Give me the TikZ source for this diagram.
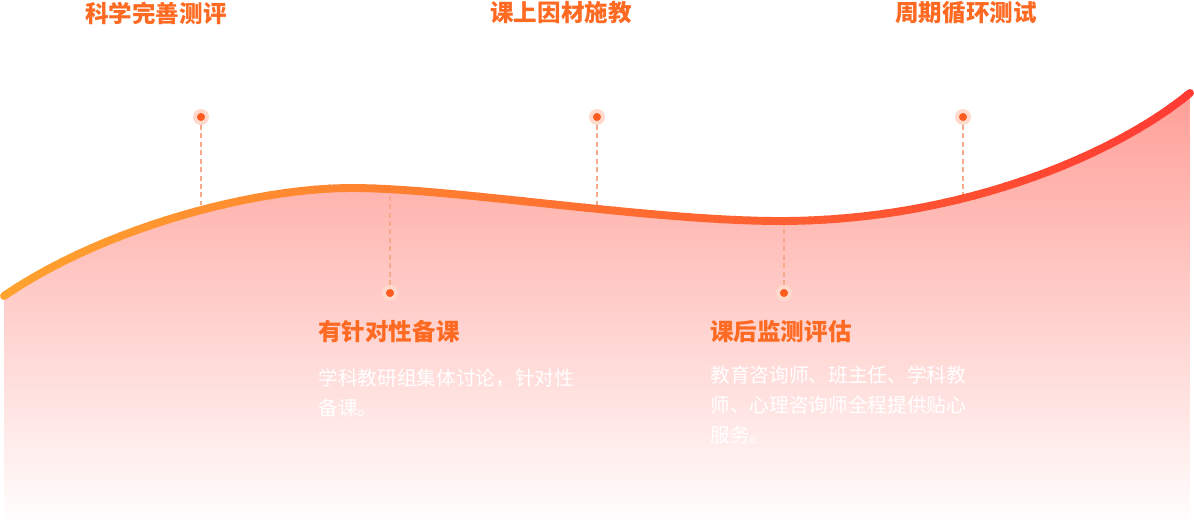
\documentclass[tikz,border=0pt]{standalone}
\usepackage{fontspec}
\newfontfamily\cjk{Noto Sans CJK SC}
\usetikzlibrary{positioning}

\definecolor{lineL}{HTML}{FFA22F}
\definecolor{lineR}{HTML}{FF3B33}
\definecolor{fillTop}{HTML}{FF9F98}
\definecolor{fillMid}{HTML}{FFD5C6}
\definecolor{titleC}{HTML}{FF6A22}
\definecolor{dotC}{HTML}{FF5B1F}
\definecolor{haloC}{HTML}{FFD9CB}
\definecolor{guideC}{HTML}{F8A98B}

\newcommand{\wavepath}{(4,296) .. controls (100,230) and (250,188) .. (352,188)
  .. controls (452,188) and (650,221) .. (780,221)
  .. controls (960,221) and (1115,155) .. (1190,93)}

\tikzset{
  title/.style={font=\cjk\bfseries\fontsize{13.4}{16}\selectfont, text=titleC, inner sep=0pt},
  body/.style={font=\cjk\fontsize{11.2}{17}\selectfont, text=white, align=left, inner sep=0pt, anchor=west},
  dotmark/.style={circle, fill=dotC, draw=haloC, line width=2.27pt, minimum size=0.24cm, inner sep=0pt},
  guide/.style={draw=guideC, line width=0.85pt, dash pattern=on 2.8pt off 2pt},
  wave/.style={line width=4.5pt, line cap=round}
}

\begin{document}
\begin{tikzpicture}[x=0.02cm, y=-0.02cm]
  \useasboundingbox (0,0) rectangle (1194,527);
  % Area under the wave
  \shade[top color=fillTop, middle color=fillMid, bottom color=white]
    (4,527) -- \wavepath -- (1190,527) -- cycle;
  % Titles
  \node[title] (t1) at (156,13) {科学完善测评};
  \node[title] (t2) at (561,13) {课上因材施教};
  \node[title] (t3) at (966,13) {周期循环测试};
  \node[title, anchor=west] (t4) at (318,332) {有针对性备课};
  \node[title, anchor=west] (t5) at (710,332) {课后监测评估};
  % Descriptions
  \node[body] (b4) at (318,393) {学科教研组集体讨论，针对性\\备课。};
  \node[body] (b5) at (710,405) {教育咨询师、班主任、学科教\\师、心理咨询师全程提供贴心\\服务。};
  % Markers
  \node[dotmark] (d1) at (201,117) {};
  \node[dotmark] (d2) at (390,293) {};
  \node[dotmark] (d3) at (597,117) {};
  \node[dotmark] (d4) at (784,293) {};
  \node[dotmark] (d5) at (963,117) {};
  \coordinate (c1) at (201,205);
  \coordinate (c2) at (390,190);
  \coordinate (c3) at (597,208);
  \coordinate (c4) at (784,221);
  \coordinate (c5) at (963,200);
  \foreach \k in {1,...,5}
    \draw[guide] (d\k) -- (c\k);
  % Wave line, coloured strip by strip
  \foreach \i in {0,...,79} {
    \pgfmathsetmacro{\p}{100*\i/79}
    \colorlet{strk}{lineR!\p!lineL}
    \begin{scope}
      \clip (\i*15-1,0) rectangle (\i*15+15.6,527);
      \draw[wave, strk] \wavepath;
    \end{scope}
  }
\end{tikzpicture}
\end{document}
